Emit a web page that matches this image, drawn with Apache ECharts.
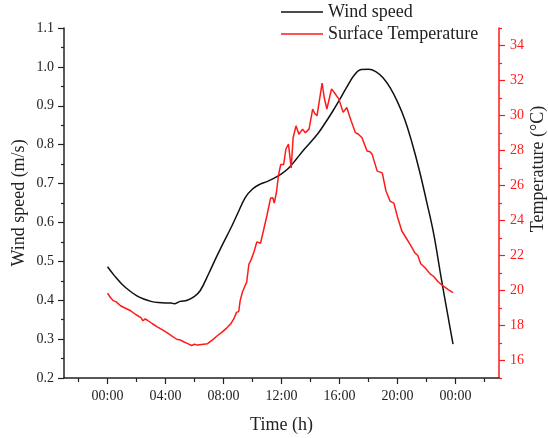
<!DOCTYPE html>
<html>
<head>
<meta charset="utf-8">
<script src="https://cdn.jsdelivr.net/npm/echarts@6.0.0/dist/echarts.min.js"></script>
<style>
  html, body { margin: 0; padding: 0; background: #fff; }
  #main { width: 548px; height: 438px; }
</style>
</head>
<body>
<div id="main"></div>
<script>
// hours since midnight, wind speed (m/s)
var windHours = [0, 0.5, 1, 1.5, 2, 2.5, 3, 3.5, 4, 4.4, 4.6, 5, 5.5, 6, 6.4, 7, 7.5, 8, 8.5, 9, 9.5,
  10, 10.5, 11, 11.5, 12, 12.5, 13, 13.5, 14, 14.5, 15, 15.5, 16, 16.5, 17, 17.5, 18, 18.5, 19, 19.5,
  20, 20.5, 21, 21.5, 22, 22.5, 23, 23.5, 23.83];
var windSpeed = [0.486, 0.462, 0.441, 0.425, 0.412, 0.403, 0.397, 0.394, 0.393, 0.393, 0.391, 0.397, 0.400, 0.410, 0.425, 0.470, 0.510, 0.548, 0.585, 0.625, 0.664,
  0.686, 0.698, 0.705, 0.714, 0.725, 0.740, 0.762, 0.785, 0.806, 0.828, 0.855, 0.884, 0.915, 0.948, 0.978, 0.993, 0.994, 0.988, 0.972, 0.946,
  0.910, 0.865, 0.805, 0.735, 0.655, 0.570, 0.460, 0.355, 0.287];

// hours since midnight, surface temperature (°C)
var tempHours = [0, 0.2, 0.4, 0.6, 0.9, 1.2, 1.6, 2.0, 2.3, 2.45, 2.6, 2.75, 3.1, 3.4, 3.8, 4.1, 4.4, 4.8, 5.0, 5.25,
  5.5, 5.8, 6.0, 6.2, 6.5, 6.9, 7.2, 7.55, 7.9, 8.25, 8.5, 8.7, 8.9, 9.05, 9.15, 9.3, 9.45, 9.6, 9.75, 9.9,
  10.1, 10.3, 10.55, 10.75, 11.0, 11.1, 11.25, 11.4, 11.5, 11.65, 11.8, 11.95, 12.15, 12.3, 12.48, 12.6, 12.67, 12.8, 13.0, 13.2,
  13.45, 13.65, 13.9, 14.15, 14.3, 14.45, 14.8, 14.95, 15.13, 15.45, 15.65, 15.95, 16.25, 16.5, 16.8, 17.1, 17.3, 17.55, 17.9, 18.1,
  18.25, 18.6, 18.95, 19.2, 19.5, 19.75, 20.0, 20.3, 20.6, 20.9, 21.2, 21.4, 21.6, 21.9, 22.25, 22.5, 22.8, 23.1, 23.5, 23.83];
var tempValue = [19.85, 19.6, 19.42, 19.35, 19.13, 19.0, 18.84, 18.6, 18.45, 18.27, 18.38, 18.3, 18.1, 17.94, 17.75, 17.59, 17.42, 17.2, 17.18, 17.07,
  16.98, 16.86, 16.93, 16.88, 16.92, 16.96, 17.15, 17.4, 17.62, 17.88, 18.1, 18.36, 18.75, 18.8, 19.42, 19.9, 20.2, 20.48, 21.5, 21.75,
  22.2, 22.78, 22.7, 23.4, 24.3, 24.7, 25.28, 25.3, 24.99, 25.6, 26.63, 27.2, 27.2, 28.07, 28.36, 28.4, 27.0, 28.73, 29.41, 28.93,
  29.22, 29.02, 29.22, 30.37, 30.1, 29.99, 31.85, 31.0, 30.37, 31.52, 31.3, 30.95, 30.18, 30.46, 29.7, 29.02, 28.93, 28.73, 27.97, 27.93,
  27.78, 26.82, 26.72, 25.7, 25.09, 24.99, 24.2, 23.4, 23.0, 22.59, 22.15, 22.0, 21.53, 21.3, 20.95, 20.8, 20.5, 20.29, 20.05, 19.88];

// tick positions
var hourTicks = [0, 4, 8, 12, 16, 20, 24];
var hourMinorTicks = [-2, 2, 6, 10, 14, 18, 22, 26];
var tempTicks = [16, 18, 20, 22, 24, 26, 28, 30, 32, 34];
var tempMinorTicks = [15, 17, 19, 21, 23, 25, 27, 29, 31, 33, 35];

var serif = "'Liberation Serif', 'Times New Roman', serif";
var red = '#ff1a1a';

function pairs(xs, ys) {
  var out = [];
  for (var i = 0; i < xs.length; i++) out.push([xs[i], ys[i]]);
  return out;
}

function hourLabel(v) {
  var h = ((Math.round(v) % 24) + 24) % 24;
  return (h < 10 ? '0' : '') + h + ':00';
}

var chart = echarts.init(document.getElementById('main'));

var option = {
  animation: false,
  backgroundColor: '#fff',
  textStyle: { fontFamily: serif },
  legend: {
    orient: 'vertical',
    left: 281,
    top: 3,
    padding: 0,
    icon: 'rect',
    itemWidth: 42,
    itemHeight: 1.5,
    itemGap: 4,
    textStyle: { fontFamily: serif, fontSize: 18, color: '#222', lineHeight: 18 },
    data: ['Wind speed', 'Surface Temperature']
  },
  grid: { left: 64, right: 49, top: 28, bottom: 60, containLabel: false, outerBoundsMode: 'none' },
  xAxis: [
    {
      type: 'value',
      min: -3,
      max: 27,
      name: 'Time (h)',
      nameLocation: 'middle',
      nameGap: 38,
      nameMoveOverlap: false,
      nameTextStyle: { fontFamily: serif, fontSize: 18, color: '#222' },
      splitLine: { show: false },
      axisLine: { onZero: false, lineStyle: { color: '#222', width: 1.5 } },
      axisTick: { customValues: hourTicks, length: 6, lineStyle: { color: '#222', width: 1.2 } },
      axisLabel: { customValues: hourTicks, formatter: hourLabel, margin: 11, fontFamily: serif, fontSize: 14, color: '#222' }
    },
    {
      type: 'value',
      position: 'bottom',
      offset: 0,
      min: -3,
      max: 27,
      splitLine: { show: false },
      axisLine: { show: false, onZero: false },
      axisTick: { customValues: hourMinorTicks, length: 4, lineStyle: { color: '#222', width: 1.2 } },
      axisLabel: { show: false }
    }
  ],
  yAxis: [
    {
      type: 'value',
      position: 'left',
      min: 0.2,
      max: 1.1,
      interval: 0.1,
      name: 'Wind speed (m/s)',
      nameLocation: 'middle',
      nameGap: 36,
      nameMoveOverlap: false,
      nameTextStyle: { fontFamily: serif, fontSize: 18, color: '#222' },
      splitLine: { show: false },
      axisLine: { show: true, onZero: false, lineStyle: { color: '#222', width: 1.5 } },
      axisTick: { show: true, length: 6, lineStyle: { color: '#222', width: 1.2 } },
      minorTick: { show: true, splitNumber: 2, length: 3, lineStyle: { color: '#222', width: 1.2 } },
      axisLabel: { margin: 10, fontFamily: serif, fontSize: 14, color: '#222', formatter: function (v) { return v.toFixed(1); } }
    },
    {
      type: 'value',
      position: 'right',
      min: 15,
      max: 35,
      name: 'Temperature (°C)',
      nameLocation: 'middle',
      nameGap: 30,
      nameMoveOverlap: false,
      nameTextStyle: { fontFamily: serif, fontSize: 18, color: '#222', padding: [0, 0, 0, 68] },
      splitLine: { show: false },
      axisLine: { show: true, onZero: false, lineStyle: { color: red, width: 1.5 } },
      axisTick: { show: true, customValues: tempTicks, length: 6, lineStyle: { color: red, width: 1.2 } },
      axisLabel: { customValues: tempTicks, margin: 11, fontFamily: serif, fontSize: 14, color: red }
    },
    {
      type: 'value',
      position: 'right',
      offset: 0,
      min: 15,
      max: 35,
      splitLine: { show: false },
      axisLine: { show: false, onZero: false },
      axisTick: { show: true, customValues: tempMinorTicks, length: 3, lineStyle: { color: red, width: 1.2 } },
      axisLabel: { show: false }
    }
  ],
  series: [
    {
      name: 'Wind speed',
      type: 'line',
      xAxisIndex: 0,
      yAxisIndex: 0,
      symbol: 'none',
      smooth: 0.4,
      lineStyle: { color: '#111', width: 1.5 },
      itemStyle: { color: '#111' },
      data: pairs(windHours, windSpeed)
    },
    {
      name: 'Surface Temperature',
      type: 'line',
      xAxisIndex: 0,
      yAxisIndex: 1,
      symbol: 'none',
      lineStyle: { color: red, width: 1.5 },
      itemStyle: { color: red },
      data: pairs(tempHours, tempValue)
    }
  ]
};

chart.setOption(option);
window.addEventListener('resize', function () { chart.resize(); });
</script>
</body>
</html>
